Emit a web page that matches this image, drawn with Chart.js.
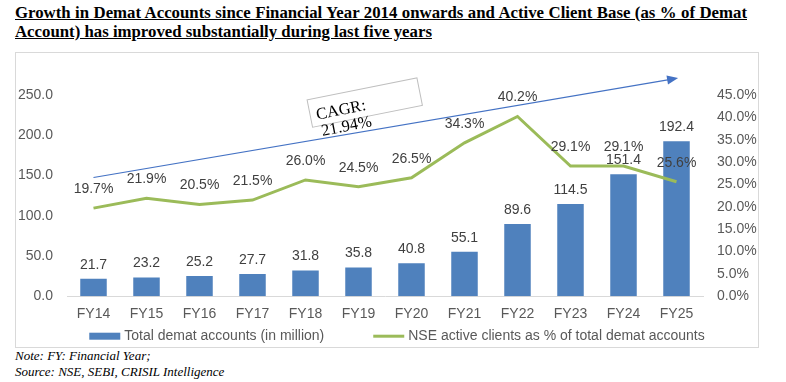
<!DOCTYPE html>
<html lang="en">
<head>
  <meta charset="UTF-8">
  <title>Demat Accounts</title>
  <style>
    body { margin: 0; background: #fff; width: 786px; height: 382px; position: relative; overflow: hidden; }
    .title {
      position: absolute; left: 15px; top: 3px; width: 732px;
      font-family: "Liberation Serif", "Times New Roman", serif;
      font-weight: bold; font-size: 16.8px; line-height: 19px;
      text-decoration: underline; color: #000;
    }
    .title .l1 { text-align: justify; text-align-last: justify; white-space: nowrap; }
    .box {
      position: absolute; left: 15px; top: 52px; width: 742px; height: 294px;
      border: 1px solid #d9d9d9;
    }
    #myChart { position: absolute; left: 0; top: 0; }
    .note {
      position: absolute; left: 15px; top: 348px;
      font-family: "Liberation Serif", "Times New Roman", serif;
      font-style: italic; font-size: 13px; line-height: 16px; color: #000;
    }
  </style>
</head>
<body>
  <div class="title">
    <div class="l1">Growth in Demat Accounts since Financial Year 2014 onwards and Active Client Base (as % of Demat</div>
    <div>Account) has improved substantially during last five years</div>
  </div>

  <div class="box">
    <canvas id="myChart" width="762" height="294"></canvas>
  </div>

  <div class="note">Note: FY: Financial Year;<br>Source: NSE, SEBI, CRISIL Intelligence</div>

<script src="https://cdn.jsdelivr.net/npm/chart.js"></script>

<script>
  // chart data
  var years = ['FY14', 'FY15', 'FY16', 'FY17', 'FY18', 'FY19', 'FY20', 'FY21', 'FY22', 'FY23', 'FY24', 'FY25'];
  var dematAccounts = [21.7, 23.2, 25.2, 27.7, 31.8, 35.8, 40.8, 55.1, 89.6, 114.5, 151.4, 192.4];
  var activeShare = [19.7, 21.9, 20.5, 21.5, 26.0, 24.5, 26.5, 34.3, 40.2, 29.1, 29.1, 25.6];
  var leftTicks = [0, 50, 100, 150, 200, 250];
  var rightTicks = [0, 5, 10, 15, 20, 25, 30, 35, 40, 45];

  // CAGR arrow, in (category index, left axis value)
  var arrowFrom = [0, 147.5];
  var arrowTo = [11.03, 271];
  var cagrBoxAt = [4.03, 244];
  var cagrLines = ['CAGR:', '21.94%'];

  var sans = '"Liberation Sans", Arial, sans-serif';
  var grey = '#595959';

  var valueLabels = {
    id: 'valueLabels',
    afterDatasetsDraw: function (chart) {
      var c = chart.ctx;
      c.save();
      c.font = '14px ' + sans;
      c.fillStyle = '#404040';
      c.textAlign = 'center';
      c.textBaseline = 'middle';
      chart.data.datasets.forEach(function (ds, i) {
        var meta = chart.getDatasetMeta(i);
        meta.data.forEach(function (el, j) {
          if (ds.type == 'bar') {
            c.fillText(ds.data[j].toFixed(1), el.x, el.y - 14);
          } else {
            c.fillText(ds.data[j].toFixed(1) + '%', el.x, el.y - 19);
          }
        });
      });
      c.restore();
    }
  };

  var cagrArrow = {
    id: 'cagrArrow',
    afterDatasetsDraw: function (chart) {
      var c = chart.ctx;
      var x = chart.scales.x, y = chart.scales.y;
      var x1 = x.getPixelForValue(arrowFrom[0]), y1 = y.getPixelForValue(arrowFrom[1]);
      var x2 = x.getPixelForValue(arrowTo[0]), y2 = y.getPixelForValue(arrowTo[1]);
      var ang = Math.atan2(y2 - y1, x2 - x1);
      c.save();
      c.strokeStyle = '#4472C4';
      c.fillStyle = '#4472C4';
      c.lineWidth = 1.2;
      c.beginPath();
      c.moveTo(x1, y1);
      c.lineTo(x2 - 9 * Math.cos(ang), y2 - 9 * Math.sin(ang));
      c.stroke();
      c.translate(x2, y2);
      c.rotate(ang);
      c.beginPath();
      c.moveTo(0, 0);
      c.lineTo(-11, -4.5);
      c.lineTo(-11, 4.5);
      c.closePath();
      c.fill();
      c.restore();

      // CAGR text box
      var bx = x.getPixelForValue(cagrBoxAt[0]), by = y.getPixelForValue(cagrBoxAt[1]);
      c.save();
      c.translate(bx, by);
      c.rotate(-11.3 * Math.PI / 180);
      c.strokeStyle = '#bfbfbf';
      c.lineWidth = 1;
      c.strokeRect(0, 0, 112, 28);
      c.fillStyle = '#000';
      c.font = '16.5px "Liberation Serif", Cambria, serif';
      c.textBaseline = 'alphabetic';
      c.fillText(cagrLines[0], 6, 21.5);
      c.fillText(cagrLines[1], 8, 38.5);
      c.restore();
    }
  };

  // legend drawn under the x labels, bar item first
  var bottomLegend = {
    id: 'bottomLegend',
    afterDraw: function (chart) {
      var c = chart.ctx;
      var area = chart.chartArea;
      var ly = area.bottom + 40;
      c.save();
      c.font = '14px ' + sans;
      c.textBaseline = 'middle';
      c.textAlign = 'left';
      var items = chart.data.datasets.map(function (ds) {
        return { ds: ds, w: 31 + 4 + c.measureText(ds.label).width };
      });
      var total = items[0].w + 49 + items[1].w;
      var lx = (area.left + area.right) / 2 + 12 - total / 2;
      items.forEach(function (it) {
        if (it.ds.type == 'bar') {
          c.fillStyle = it.ds.backgroundColor;
          c.fillRect(lx, ly - 3.5, 31, 7);
        } else {
          c.strokeStyle = it.ds.borderColor;
          c.lineWidth = 3;
          c.beginPath();
          c.moveTo(lx, ly);
          c.lineTo(lx + 31, ly);
          c.stroke();
        }
        c.fillStyle = grey;
        c.fillText(it.ds.label, lx + 35, ly);
        lx += it.w + 49;
      });
      c.restore();
    }
  };

  const ctx = document.getElementById('myChart');

  chart = new Chart(ctx, {
    data: {
      labels: years,
      datasets: [{
        type: 'bar',
        label: 'Total demat accounts (in million)',
        data: dematAccounts,
        backgroundColor: '#4F81BD',
        borderWidth: 0,
        categoryPercentage: 1.0,
        barPercentage: 0.5,
        yAxisID: 'y',
        order: 2
      },
      {
        type: 'line',
        label: 'NSE active clients as % of total demat accounts',
        data: activeShare,
        borderColor: '#9BBB59',
        backgroundColor: '#9BBB59',
        borderWidth: 3,
        pointRadius: 0,
        tension: 0,
        yAxisID: 'y1',
        order: 1
      }]
    },
    options: {
      responsive: false,
      animation: false,
      layout: { padding: { top: 42, left: 0, right: 0, bottom: 14 } },
      plugins: {
        legend: { display: false },
        tooltip: { enabled: false }
      },
      scales: {
        x: {
          grid: { display: true, drawOnChartArea: false, drawTicks: false },
          border: { display: true, color: '#d9d9d9' },
          ticks: { color: grey, font: { family: sans, size: 14 }, padding: 10 }
        },
        y: {
          position: 'left',
          min: 0,
          max: 250,
          afterBuildTicks: function (s) { s.ticks = leftTicks.map(function (v) { return { value: v }; }); },
          afterFit: function (s) { s.width = 51; },
          grid: { display: false, drawTicks: false },
          border: { display: false },
          ticks: {
            color: grey, font: { family: sans, size: 14 }, padding: 14,
            callback: function (v) { return v.toFixed(1); }
          }
        },
        y1: {
          position: 'right',
          min: 0,
          max: 45,
          afterBuildTicks: function (s) { s.ticks = rightTicks.map(function (v) { return { value: v }; }); },
          afterFit: function (s) { s.width = 75; },
          grid: { display: false, drawTicks: false },
          border: { display: false },
          ticks: {
            color: grey, font: { family: sans, size: 14 }, padding: 14,
            callback: function (v) { return v.toFixed(1) + '%'; }
          }
        }
      }
    },
    plugins: [valueLabels, cagrArrow, bottomLegend]
  });
</script>
</body>
</html>
